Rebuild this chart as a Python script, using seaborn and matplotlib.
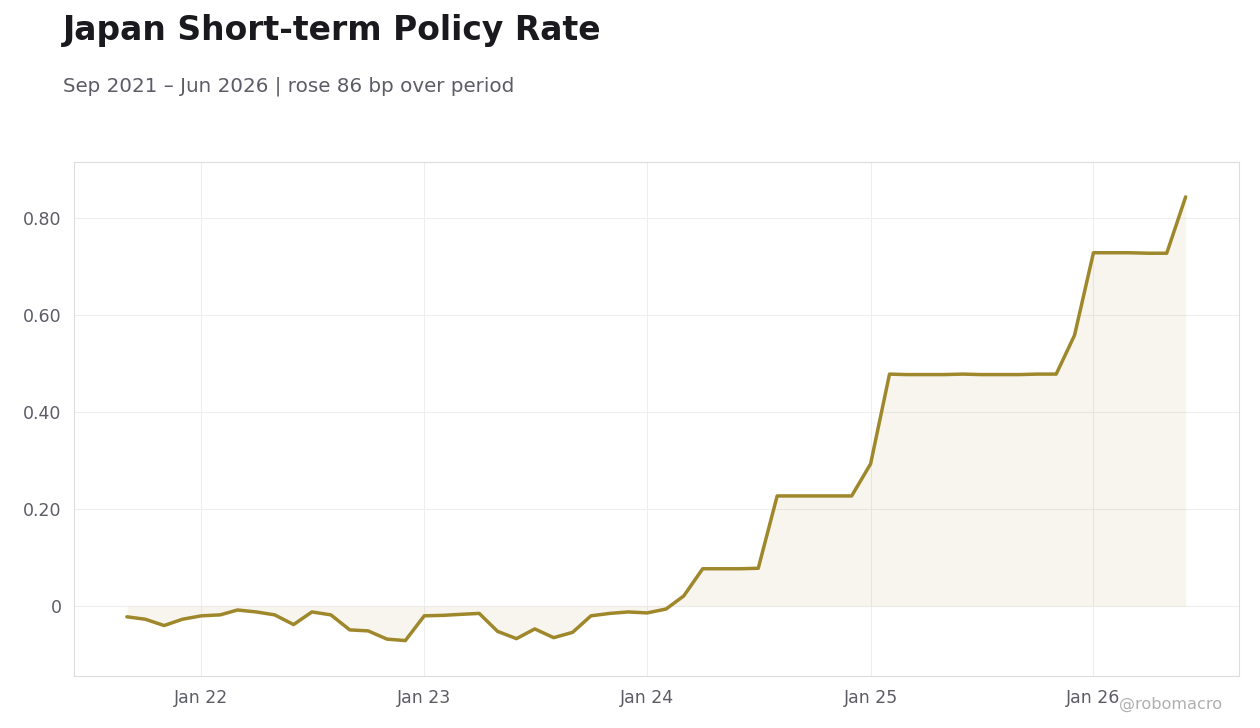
import pandas as pd
import numpy as np
import matplotlib.pyplot as plt
import matplotlib.dates as mdates
import seaborn as sns

sns.set_theme(style="white")
plt.rcParams["font.family"] = ["DejaVu Sans"]

# monthly readings, Sep 2021 - Jun 2026 (percent)
rate_2021 = [-0.022, -0.027, -0.040, -0.027]
rate_2022 = [-0.020, -0.018, -0.008, -0.012, -0.018, -0.038,
             -0.012, -0.018, -0.049, -0.051, -0.068, -0.071]
rate_2023 = [-0.020, -0.019, -0.017, -0.015, -0.052, -0.067,
             -0.047, -0.065, -0.054, -0.020, -0.015, -0.012]
rate_2024 = [-0.014, -0.006, 0.021, 0.077, 0.077, 0.077,
             0.078, 0.227, 0.227, 0.227, 0.227, 0.227]
rate_2025 = [0.293, 0.478, 0.477, 0.477, 0.477, 0.478,
             0.477, 0.477, 0.477, 0.478, 0.478, 0.558]
rate_2026 = [0.728, 0.728, 0.728, 0.727, 0.727, 0.843]

rates = rate_2021 + rate_2022 + rate_2023 + rate_2024 + rate_2025 + rate_2026
months = pd.date_range("2021-09-01", periods=len(rates), freq="MS")
df = pd.DataFrame({"date": months, "rate": rates})

line_color = "#9e882b"
text_color = "#5c5c66"

fig = plt.figure(figsize=(12.6, 7.28), dpi=100)
ax = fig.add_axes([0.0587, 0.0714, 0.9243, 0.7061])

ax.fill_between(df["date"], df["rate"], 0, color=line_color, alpha=0.08, linewidth=0)
sns.lineplot(data=df, x="date", y="rate", color=line_color, linewidth=2.5, ax=ax)

ax.set_ylim(-0.144, 0.915)
ax.set_yticks([0, 0.2, 0.4, 0.6, 0.8])
ax.yaxis.set_major_formatter(plt.FuncFormatter(lambda v, _: "0" if abs(v) < 1e-9 else f"{v:.2f}"))
ax.xaxis.set_major_locator(mdates.YearLocator())
ax.xaxis.set_major_formatter(mdates.DateFormatter("%b %y"))
ax.margins(x=0.05)

ax.set_xlabel("")
ax.set_ylabel("")
ax.grid(True, color="#eeeeee", linewidth=0.8)
ax.set_axisbelow(True)
for side in ax.spines.values():
    side.set_color("#dddddd")
    side.set_linewidth(0.8)
ax.tick_params(axis="both", labelsize=12.5, colors=text_color, length=4, width=0.8,
               color="#999999", pad=5)

fig.text(0.05, 0.981, "Japan Short-term Policy Rate", fontsize=23.8, fontweight="bold",
         color="#1a1a1e", va="top", ha="left")
fig.text(0.05, 0.882, "Sep 2021 \u2013 Jun 2026 | rose 86 bp over period", fontsize=14.3,
         color=text_color, va="center", ha="left")
fig.text(0.97, 0.032, "@robomacro", fontsize=11.6, color="#b0b0b0", ha="right", va="center")

plt.savefig("out.png", dpi=100)
plt.close()
